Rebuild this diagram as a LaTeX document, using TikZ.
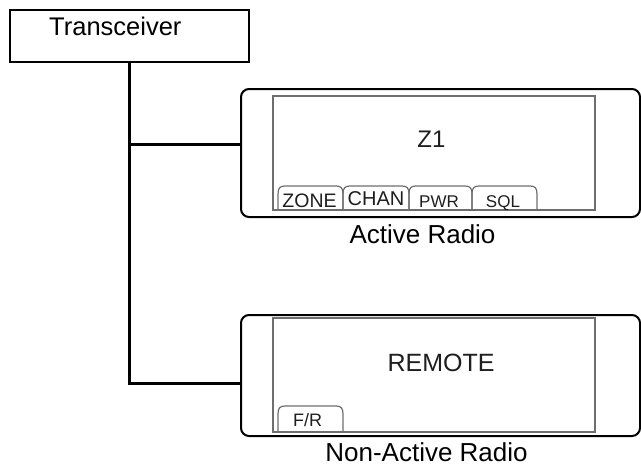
\documentclass[tikz,border=0pt]{standalone}
\usepackage{fontspec}
\setmainfont{Liberation Sans}
\definecolor{scr}{HTML}{6E6E6E}
\definecolor{txt}{HTML}{1E1E1E}
\begin{document}
\begin{tikzpicture}[x=1pt,y=-1pt,
  outerbox/.style={draw, line width=2pt, inner sep=0pt, rounded corners=8pt},
  screenbox/.style={draw=scr, line width=1.3pt, inner sep=0pt},
  conn/.style={line width=3pt},
  lbl/.style={inner sep=0pt, anchor=base, font=\fontsize{26}{30}\selectfont},
  scrtxt/.style={inner sep=0pt, anchor=base, text=txt, font=\fontsize{24}{28}\selectfont},
  tabline/.style={draw=scr, line width=1.2pt},
  tabtxt/.style={inner sep=0pt, anchor=base, text=txt}]
\useasboundingbox (0,0) rectangle (641,467);
% transceiver
\node[draw, line width=2pt, inner sep=0pt, minimum width=239pt, minimum height=52pt] (tx) at (129.5,36) {};
\node[inner sep=0pt, anchor=base west, font=\fontsize{25.5}{30}\selectfont] (txl) at (49,35) {Transceiver};
% radios
\node[outerbox, minimum width=399pt, minimum height=128pt] (ar) at (440.5,153) {};
\node[outerbox, minimum width=399pt, minimum height=121pt] (nar) at (440.5,375.5) {};
\node[screenbox, minimum width=322pt, minimum height=114pt] (as) at (434,153) {};
\node[screenbox, minimum width=322pt, minimum height=114pt] (ns) at (434,375) {};
% connectors
\coordinate (j1) at (129.5,144);
\coordinate (j2) at (129.5,383);
\draw[conn] (tx.south) -- (j2) -- (j2 -| nar.west);
\draw[conn] ([xshift=-1.5pt]j1) -- (j1 -| ar.west);
% screen texts
\node[scrtxt, font=\fontsize{24}{28}\selectfont] (z1) at (431.5,147) {Z1};
\node[scrtxt, font=\fontsize{25}{28}\selectfont] (rem) at (441,371) {REMOTE};
% tabs
\foreach \a/\b in {278/343, 343/409, 409/472, 472/537}{
  \draw[tabline] (\a,209) -- (\a,194) .. controls (\a,188) and (\a+2,186) .. (\a+7,186)
    -- (\b-7,186) .. controls (\b-2,186) and (\b,188) .. (\b,194) -- (\b,209);
}
\draw[tabline] (278,431) -- (278,414) .. controls (278,408) and (280,406) .. (285,406)
    -- (336,406) .. controls (341,406) and (343,408) .. (343,414) -- (343,431);
\node[tabtxt, font=\fontsize{19.5}{22}\selectfont] (tz) at (309.5,207.5) {ZONE};
\node[tabtxt, font=\fontsize{20}{22}\selectfont] (tc) at (376,205) {CHAN};
\node[tabtxt, font=\fontsize{17}{20}\selectfont] (tp) at (439,207.5) {PWR};
\node[tabtxt, font=\fontsize{17}{20}\selectfont] (ts) at (503,207.5) {SQL};
\node[tabtxt, font=\fontsize{18}{20}\selectfont] (tf) at (307.5,426) {F/R};
% labels
\node[lbl] (arl) at (422.5,243) {Active Radio};
\node[lbl] (narl) at (426.5,461) {Non-Active Radio};
\end{tikzpicture}
\end{document}
